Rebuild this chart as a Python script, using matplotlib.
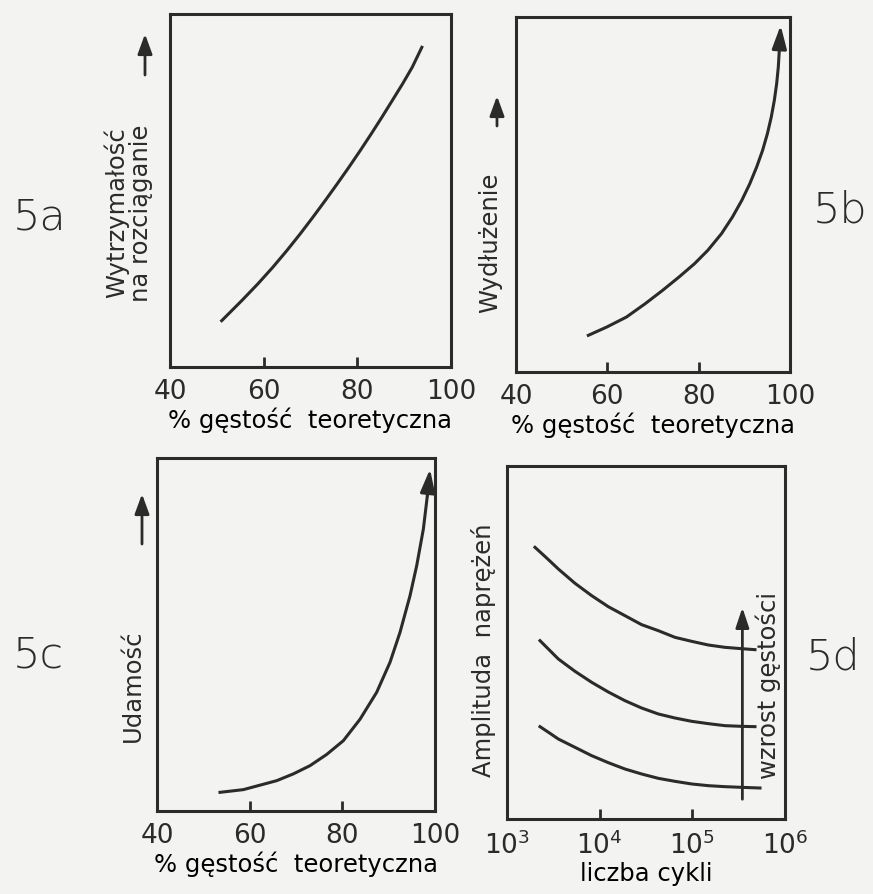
import numpy as np
import matplotlib.pyplot as plt
from matplotlib.patches import FancyArrowPatch

# values (y in arbitrary units 0-100)
dens_a = [51.04, 55.31, 58.73, 61.94, 64.93, 67.78, 70.49, 73.12, 75.68,
          78.18, 80.60, 82.95, 85.23, 87.44, 89.64, 91.71, 93.77]
wytrz_a = [13.12, 18.79, 23.51, 28.24, 32.95, 37.68, 42.40, 47.12, 51.84,
           56.56, 61.28, 66.01, 70.73, 75.45, 80.17, 84.89, 90.56]

dens_b = [55.84, 59.9, 64.2, 68.3, 72.1, 75.7, 79.1, 82.0, 85.0, 87.4,
          89.45, 91.2, 92.7, 94.0, 95.05, 95.9, 96.57, 97.08, 97.44, 97.7, 97.95]
wydl_b = [10.33, 12.68, 15.49, 19.25, 23.00, 26.76, 30.52, 34.27, 38.97, 43.66,
          48.36, 53.05, 57.75, 62.44, 67.14, 71.83, 76.53, 81.22, 85.92, 91.55, 97.65]

dens_c = [53.60, 58.63, 65.83, 69.4, 73.02, 76.6, 80.22, 83.82, 87.41, 90.29,
          92.45, 94.61, 96.05, 97.49, 98.35, 98.93]
udam_c = [5.29, 6.05, 8.59, 10.5, 12.84, 16.0, 19.92, 26.0, 33.62, 42.12,
          50.61, 61.00, 69.50, 79.89, 89.33, 96.88]

# log10(liczba cykli)
cykle_d1 = [3.302, 3.428, 3.554, 3.734, 3.914, 4.093, 4.273, 4.453, 4.633,
            4.813, 4.993, 5.173, 5.352, 5.532, 5.676]
ampl_d1 = [76.96, 73.94, 70.82, 66.76, 63.27, 60.15, 57.60, 55.05, 53.35,
           51.46, 50.33, 49.29, 48.63, 48.25, 47.97]
cykle_d2 = [3.356, 3.464, 3.554, 3.734, 3.914, 4.093, 4.273, 4.453, 4.633,
            4.813, 4.993, 5.173, 5.352, 5.532, 5.676]
ampl_d2 = [50.52, 47.69, 45.33, 41.83, 38.72, 35.98, 33.52, 31.44, 29.75,
           28.61, 27.67, 27.01, 26.44, 26.25, 26.16]
cykle_d3 = [3.356, 3.464, 3.554, 3.734, 3.914, 4.093, 4.273, 4.453, 4.633,
            4.813, 4.993, 5.173, 5.352, 5.532, 5.730]
ampl_d3 = [26.16, 24.27, 22.66, 20.30, 17.94, 15.96, 14.16, 12.75, 11.52,
           10.67, 9.92, 9.44, 9.16, 8.97, 8.78]
strzalka_d = [5.54, 5.6, 59.9]   # log10 x, y from, y to

dens_ticks = [40, 60, 80, 100]
cykle_ticks = [1e3, 1e4, 1e5, 1e6]

INK = '#2b2b2b'
BG = '#f3f3f1'
W, H = 873, 895

plt.rcParams['font.family'] = ['DejaVu Sans']
plt.rcParams['text.color'] = INK
plt.rcParams['xtick.color'] = INK

fig = plt.figure(figsize=(W / 100, H / 100), dpi=100, facecolor=BG)


def rect(l, t, r, b):
    return [l / W, 1 - b / H, (r - l) / W, (b - t) / H]


def fxy(px, py):
    return (px / W, 1 - py / H)


def frame(ax):
    ax.set_facecolor(BG)
    for s in ax.spines.values():
        s.set_linewidth(2.2)
        s.set_color(INK)
    ax.set_ylim(0, 100)
    ax.set_yticks([])
    ax.tick_params(axis='x', direction='in', length=7, width=2,
                   labelsize=19, pad=8)
    ax.tick_params(axis='x', which='minor', length=0)


def curve_arrow(ax, xs, ys):
    ax.annotate('', xy=(xs[-1], ys[-1]), xytext=(xs[-2], ys[-2]),
                arrowprops=dict(arrowstyle='-|>,head_length=0.7,head_width=0.22',
                                mutation_scale=20, color=INK, lw=2.2,
                                shrinkA=0, shrinkB=0))


def fig_arrow(px, py0, py1):
    fig.add_artist(FancyArrowPatch(
        fxy(px, py0), fxy(px, py1), transform=fig.transFigure,
        arrowstyle='-|>,head_length=0.6,head_width=0.22', mutation_scale=20,
        color=INK, lw=2, shrinkA=0, shrinkB=0))


# 5a
ax = fig.add_axes(rect(170, 15, 451, 368))
frame(ax)
ax.plot(dens_a, wytrz_a, color=INK, lw=2.2)
ax.set_xlim(40, 100)
ax.set_xticks(dens_ticks)
ax.set_xlabel('% gęstość  teoretyczna', fontsize=17.5, labelpad=2)

# 5b
ax = fig.add_axes(rect(516, 18, 790, 373))
frame(ax)
ax.plot(dens_b[:-1], wydl_b[:-1], color=INK, lw=2.2)
curve_arrow(ax, dens_b, wydl_b)
ax.set_xlim(40, 100)
ax.set_xticks(dens_ticks)
ax.set_xlabel('% gęstość  teoretyczna', fontsize=17.5, labelpad=2)

# 5c
ax = fig.add_axes(rect(157, 459, 435, 812))
frame(ax)
ax.plot(dens_c[:-1], udam_c[:-1], color=INK, lw=2.2)
curve_arrow(ax, dens_c, udam_c)
ax.set_xlim(40, 100)
ax.set_xticks(dens_ticks)
ax.set_xlabel('% gęstość  teoretyczna', fontsize=17.5, labelpad=2)

# 5d
ax = fig.add_axes(rect(507, 467, 785, 820))
frame(ax)
for lx, ly in [(cykle_d1, ampl_d1), (cykle_d2, ampl_d2), (cykle_d3, ampl_d3)]:
    ax.plot(10 ** np.array(lx), ly, color=INK, lw=2.2)
ax.set_xscale('log')
ax.set_xlim(1e3, 1e6)
ax.set_xticks(cykle_ticks)
ax.minorticks_off()
ax.tick_params(axis='x', which='minor', length=0)
ax.set_xlabel('liczba cykli', fontsize=17.5, labelpad=2)
xa = 10 ** strzalka_d[0]
ax.annotate('', xy=(xa, strzalka_d[2]), xytext=(xa, strzalka_d[1]),
            arrowprops=dict(arrowstyle='-|>,head_length=0.6,head_width=0.2',
                            mutation_scale=20, color=INK, lw=2,
                            shrinkA=0, shrinkB=0))
ax.text(10 ** 5.82, 38, 'wzrost gęstości', rotation=90, fontsize=17.5,
        ha='center', va='center', clip_on=False)

# y labels and arrows
fig.text(*fxy(128, 213), 'Wytrzymałość\nna rozciąganie', rotation=90,
         fontsize=17.5, ha='center', va='center', linespacing=1.0)
fig_arrow(145, 76, 35)
fig.text(*fxy(490, 243), 'Wydłużenie', rotation=90, fontsize=17.5,
         ha='center', va='center')
fig_arrow(497, 127, 97)
fig.text(*fxy(133, 686), 'Udamość', rotation=90, fontsize=17.5,
         ha='center', va='center')
fig_arrow(142, 545, 495)
fig.text(*fxy(483, 650), 'Amplituda  naprężeń', rotation=90, fontsize=17.5,
         ha='center', va='center')

# panel tags
for tag, px, py in [('5a', 40, 217), ('5b', 840, 210), ('5c', 38, 655), ('5d', 833, 657)]:
    fig.text(*fxy(px, py), tag, fontsize=31, ha='center', va='center',
             fontweight='light')

fig.savefig('out.png', dpi=100, facecolor=BG)
